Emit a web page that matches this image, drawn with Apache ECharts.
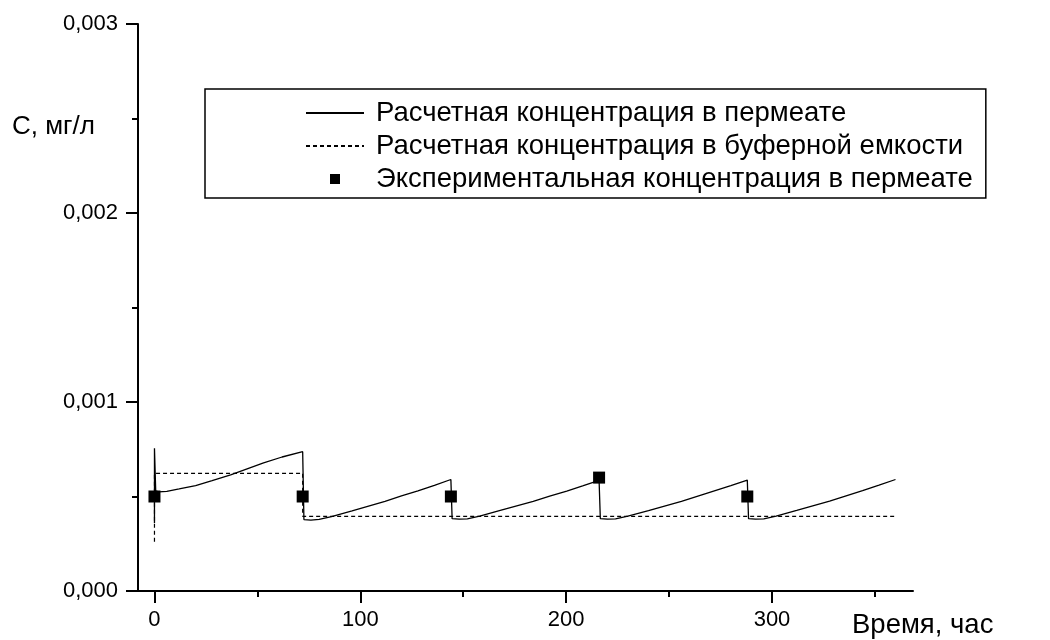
<!DOCTYPE html>
<html>
<head>
<meta charset="utf-8">
<script src="https://cdn.jsdelivr.net/npm/echarts@6/dist/echarts.min.js"></script>
<style>
  html, body { margin: 0; padding: 0; background: #fff; }
  #chart { width: 1050px; height: 640px; }
</style>
</head>
<body>
<div id="chart"></div>
<script>
// Series names (legend text)
const nameCalcPermeate = 'Расчетная концентрация в пермеате';
const nameCalcBuffer = 'Расчетная концентрация в буферной емкости';
const nameExpPermeate = 'Экспериментальная концентрация в пермеате';

// Axis titles
const yTitle = 'C, мг/л';
const xTitle = 'Время, час';

// Tick values
const xMajorTicks = [0, 100, 200, 300];
const xMinorTicks = [50, 150, 250, 350];

// Calculated concentration in permeate, time (h) and value (mg/L), one row per cycle
const calcPermeateT = [
  0, 0, 0.6, 2, 6, 12, 20, 28, 37, 45, 53, 62, 72,
  72.6, 76, 80, 86, 96, 112, 120, 128, 136, 144,
  144.6, 148, 152, 158, 168, 184, 192, 200.3, 208, 216,
  216.6, 220, 224, 230, 240, 256, 264, 272, 280, 288,
  288.6, 292, 296, 302, 312, 328, 336, 344, 352, 360
];
const calcPermeateC = [
  0.00036, 0.000755, 0.00053, 0.000524, 0.000527, 0.00054, 0.000558, 0.000584, 0.000614, 0.000646, 0.000678, 0.000709, 0.000737,
  0.000378, 0.000375, 0.000379, 0.000394, 0.000424, 0.000474, 0.000503, 0.00053, 0.000559, 0.00059,
  0.000383, 0.00038, 0.000382, 0.000396, 0.000426, 0.000474, 0.000502, 0.000529, 0.000556, 0.000585,
  0.000383, 0.00038, 0.000382, 0.000396, 0.000425, 0.000474, 0.000502, 0.00053, 0.000558, 0.000587,
  0.000383, 0.00038, 0.000382, 0.000396, 0.000426, 0.000475, 0.000503, 0.000531, 0.00056, 0.00059
];

// Calculated concentration in the buffer tank
const calcBufferT = [0, 0, 72, 72, 360];
const calcBufferC = [0.00026, 0.000622, 0.000622, 0.000395, 0.000395];

// Experimental concentration in permeate
const expT = [0, 72, 144, 216, 288];
const expC = [0.0005, 0.0005, 0.0005, 0.0006, 0.0005];

const zip = (a, b) => a.map((v, i) => [v, b[i]]);

const FONT = '"Liberation Sans", Arial, sans-serif';
const BLACK = '#000';

// Legend icon for the experimental points: a small square centred in a 58x10 icon box
const squareIcon = 'path://M0,0 M58,10 M24,0 L34,0 L34,10 L24,10 Z';

const chart = echarts.init(document.getElementById('chart'), null, { renderer: 'canvas' });

const xAxisBase = {
  type: 'value',
  min: -8,
  max: 368.5,
  position: 'bottom',
  splitLine: { show: false }
};

chart.setOption({
  backgroundColor: '#fff',
  animation: false,
  grid: { left: 138, right: 137, top: 24, bottom: 49, containLabel: false },
  xAxis: [
    Object.assign({}, xAxisBase, {
      axisLine: { show: true, onZero: false, lineStyle: { color: BLACK, width: 2 } },
      axisTick: { show: true, length: 12, lineStyle: { color: BLACK, width: 2 }, customValues: xMajorTicks },
      axisLabel: { show: true, customValues: xMajorTicks, color: BLACK, fontSize: 22, fontFamily: FONT, margin: 18 }
    }),
    Object.assign({}, xAxisBase, {
      axisLine: { show: false, onZero: false },
      axisTick: { show: true, length: 6, lineStyle: { color: BLACK, width: 2 }, customValues: xMinorTicks },
      axisLabel: { show: false }
    })
  ],
  yAxis: {
    type: 'value',
    min: 0,
    max: 0.003,
    interval: 0.001,
    axisLine: { show: true, onZero: false, lineStyle: { color: BLACK, width: 2 } },
    axisTick: { show: true, length: 12, lineStyle: { color: BLACK, width: 2 } },
    minorTick: { show: true, splitNumber: 2, length: 6, lineStyle: { color: BLACK, width: 2 } },
    splitLine: { show: false },
    minorSplitLine: { show: false },
    axisLabel: {
      color: BLACK, fontSize: 22, fontFamily: FONT, margin: 20,
      formatter: v => v.toFixed(3).replace('.', ',')
    }
  },
  legend: {
    orient: 'vertical',
    left: 205,
    top: 89,
    padding: [10, 13, 5, 100],
    itemGap: 5,
    itemWidth: 58,
    itemHeight: 10,
    borderColor: BLACK,
    borderWidth: 1.5,
    borderRadius: 0,
    backgroundColor: '#fff',
    selectedMode: false,
    textStyle: { color: BLACK, fontSize: 27.5, fontFamily: FONT, lineHeight: 27, padding: [0, 0, 0, 7] },
    data: [
      { name: nameCalcPermeate, itemStyle: { opacity: 0 } },
      { name: nameCalcBuffer, itemStyle: { opacity: 0 } },
      { name: nameExpPermeate, icon: squareIcon }
    ]
  },
  series: [
    {
      name: nameCalcPermeate,
      type: 'line',
      data: zip(calcPermeateT, calcPermeateC),
      showSymbol: false,
      symbol: 'none',
      lineStyle: { color: BLACK, width: 1.3 },
      itemStyle: { color: BLACK },
      z: 3
    },
    {
      name: nameCalcBuffer,
      type: 'line',
      data: zip(calcBufferT, calcBufferC),
      showSymbol: false,
      symbol: 'none',
      lineStyle: { color: BLACK, width: 1.2, type: [4, 3] },
      itemStyle: { color: BLACK },
      z: 2
    },
    {
      name: nameExpPermeate,
      type: 'scatter',
      data: zip(expT, expC),
      symbol: 'rect',
      symbolSize: 12,
      itemStyle: { color: BLACK, opacity: 1 },
      z: 4
    }
  ],
  graphic: [
    {
      type: 'text',
      left: 12,
      top: 114,
      style: { text: yTitle, fill: BLACK, fontSize: 26, fontFamily: FONT }
    },
    {
      type: 'text',
      left: 852,
      top: 611,
      style: { text: xTitle, fill: BLACK, fontSize: 27.5, fontFamily: FONT }
    }
  ]
});
</script>
</body>
</html>
